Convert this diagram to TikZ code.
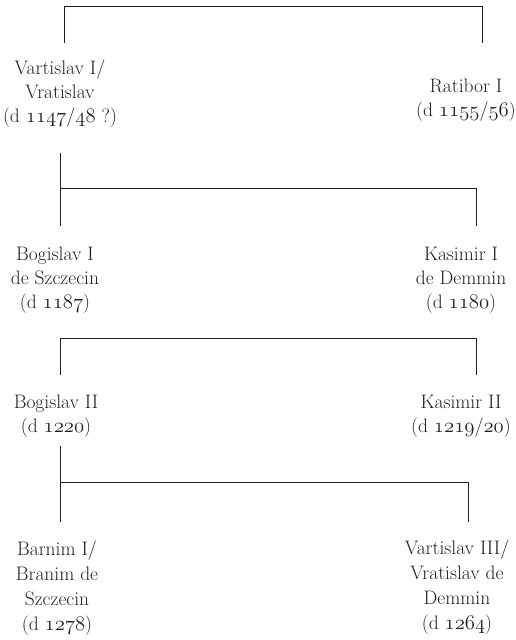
\documentclass[tikz,border=0pt]{standalone}
\newcommand\osn[1]{{\usefont{OML}{lmm}{m}{it}#1}}
\definecolor{ink}{HTML}{231F20}
\begin{document}
\begin{tikzpicture}[x=1pt,y=-1pt,
  person/.style={align=center,inner sep=0pt,anchor=north,text=ink,
    font=\fontsize{19.5}{24}\selectfont},
  lastgen/.style={person,font=\fontsize{19.5}{25}\selectfont},
  link/.style={draw=ink,line width=1pt}]
\useasboundingbox (0,0) rectangle (515,640);
% people
\node[person] (v1) at (60,57.2) {\strut Vartislav I/\\Vratislav\\(d \osn{1147}/\osn{48} ?)};
\node[person] (r1) at (466,75.2) {\strut Ratibor I\\(d \osn{1155}/\osn{56})};
\node[person] (b1) at (55,243.2) {\strut Bogislav I\\de Szczecin\\(d \osn{1187})};
\node[person] (k1) at (461,243.2) {\strut Kasimir I\\de Demmin\\(d \osn{1180})};
\node[person] (b2) at (56,391.2) {\strut Bogislav II\\(d \osn{1220})};
\node[person] (k2) at (461,391.2) {\strut Kasimir II\\(d \osn{1219}/\osn{20})};
\node[lastgen] (ba) at (57,538.2) {\strut Barnim I/\\Branim de\\Szczecin\\(d \osn{1278})};
\node[lastgen] (va) at (457,537.2) {\strut Vartislav III/\\Vratislav de\\Demmin\\(d \osn{1264})};
% bracket corners
\coordinate (f1l) at (64,43);  \coordinate (c1l) at (64,6);
\coordinate (c1r) at (482,6);  \coordinate (f1r) at (482,43);
\coordinate (s2) at (60,153);  \coordinate (j2) at (60,188);
\coordinate (f2l) at (60,226); \coordinate (f2r) at (476,226);
\coordinate (j3) at (60,338);  \coordinate (f3l) at (60,375);
\coordinate (f3r) at (476,375);
\coordinate (s4) at (60,446);  \coordinate (j4) at (60,482);
\coordinate (f4l) at (60,522); \coordinate (f4r) at (468,522);
% connectors
\draw[link] (f1l) -- (c1l) -- (c1r) -- (f1r);
\draw[link] (s2) -- (f2l);
\draw[link] (j2) -| (f2r);
\draw[link] (f3l) |- (j3) -| (f3r);
\draw[link] (s4) -- (f4l);
\draw[link] (j4) -| (f4r);
\end{tikzpicture}
\end{document}
